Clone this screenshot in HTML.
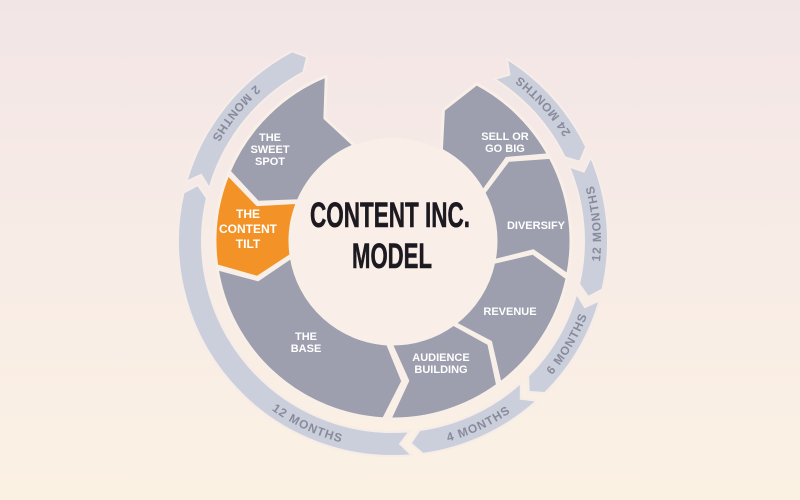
<!DOCTYPE html>
<html><head><meta charset="utf-8">
<style>
html,body{margin:0;padding:0;}
body{width:800px;height:500px;overflow:hidden;background:linear-gradient(#f2e5e6,#f8ece6 50%,#fbf1e3);}
svg{display:block}
.w{font-family:"Liberation Sans",sans-serif;font-weight:bold;fill:#fff;text-anchor:middle;font-size:11px}
.b{font-family:"Liberation Sans",sans-serif;font-weight:bold;fill:#878b9c;font-size:12px;letter-spacing:1px}
</style></head><body>
<svg width="800" height="500" viewBox="0 0 800 500">
<circle cx="393" cy="241" r="103" fill="#f9efe8"/>
<g id="segs"></g>
<g id="band"></g>
<defs id="defs"></defs>
<text class="b"><textPath href="#t0" startOffset="50%" text-anchor="middle">2 MONTHS</textPath></text>
<text class="b"><textPath href="#t1" startOffset="50%" text-anchor="middle">24 MONTHS</textPath></text>
<text class="b"><textPath href="#t2" startOffset="50%" text-anchor="middle">12 MONTHS</textPath></text>
<text class="b"><textPath href="#t3" startOffset="50%" text-anchor="middle">6 MONTHS</textPath></text>
<text class="b"><textPath href="#t4" startOffset="50%" text-anchor="middle">4 MONTHS</textPath></text>
<text class="b"><textPath href="#t5" startOffset="50%" text-anchor="middle">12 MONTHS</textPath></text>

<text class="w" x="270" y="141">THE</text>
<text class="w" x="270" y="153">SWEET</text>
<text class="w" x="270" y="165">SPOT</text>
<text class="w" x="248" y="218" style="font-size:12px">THE</text>
<text class="w" x="248" y="233" style="font-size:12px">CONTENT</text>
<text class="w" x="248" y="248" style="font-size:12px">TILT</text>
<text class="w" x="505" y="140">SELL OR</text>
<text class="w" x="505" y="152">GO BIG</text>
<text class="w" x="536" y="229">DIVERSIFY</text>
<text class="w" x="510" y="315">REVENUE</text>
<text class="w" x="306" y="340">THE</text>
<text class="w" x="306" y="352">BASE</text>
<text class="w" x="441" y="361">AUDIENCE</text>
<text class="w" x="441" y="373">BUILDING</text>

<text x="390" y="227" textLength="160" lengthAdjust="spacingAndGlyphs" style="font-family:'Liberation Sans Narrow','Liberation Sans',sans-serif;font-weight:bold;font-size:35px;fill:#1c1a20;text-anchor:middle;stroke:#1c1a20;stroke-width:0.6">CONTENT INC.</text>
<text x="392" y="268" textLength="80" lengthAdjust="spacingAndGlyphs" style="font-family:'Liberation Sans Narrow','Liberation Sans',sans-serif;font-weight:bold;font-size:35px;fill:#1c1a20;text-anchor:middle;stroke:#1c1a20;stroke-width:0.6">MODEL</text>
</svg>
<script>
var cx=393,cy=241,NS="http://www.w3.org/2000/svg";
function P(r,a){a=a*Math.PI/180;return (cx+r*Math.cos(a)).toFixed(1)+","+(cy+r*Math.sin(a)).toFixed(1);}
function seg(r1,r2,a0,a1,k){var rm=(r1+r2)/2;
 return "M"+P(r2,a0)+" L"+P(rm,a0+k)+" L"+P(r1,a0)+" A"+r1+","+r1+" 0 0 1 "+P(r1,a1)+" L"+P(rm,a1+k)+" L"+P(r2,a1)+" A"+r2+","+r2+" 0 0 0 "+P(r2,a0)+"Z";}
var segs=[[93,171,"#9d9fae"],[172,202,"#f39327"],[203,248,"#9d9fae"],[298,331,"#9d9fae"],[332,371,"#9d9fae"],[372,413,"#9d9fae"],[414,451,"#9d9fae"]];
var g=document.getElementById("segs");
segs.forEach(function(s){var p=document.createElementNS(NS,"path");p.setAttribute("d",seg(103,178,s[0],s[1],-7));p.setAttribute("fill",s[2]);p.setAttribute("stroke","#f8efe8");p.setAttribute("stroke-width","3");p.setAttribute("stroke-linejoin","round");g.appendChild(p);});
var band=[[196,242],[302,334],[337,373],[376,405],[408,442],[445,553]];
var textArcs=[[198,240],[304,332],[339,371],[378,403],[410,440],[450,500]];
var bg=document.getElementById("band"),d=document.getElementById("defs");
band.forEach(function(s,i){var p=document.createElementNS(NS,"path");p.setAttribute("d",seg(191,215,s[0],s[1],3));p.setAttribute("fill","#cbcfdb");p.setAttribute("stroke","#f6ece8");p.setAttribute("stroke-width","2");bg.appendChild(p);
 var t=textArcs[i],q=document.createElementNS(NS,"path");q.setAttribute("id","t"+i);q.setAttribute("d","M"+P(208,t[1])+" A208,208 0 0 0 "+P(208,t[0]));q.setAttribute("fill","none");d.appendChild(q);});
</script>
</body></html>
